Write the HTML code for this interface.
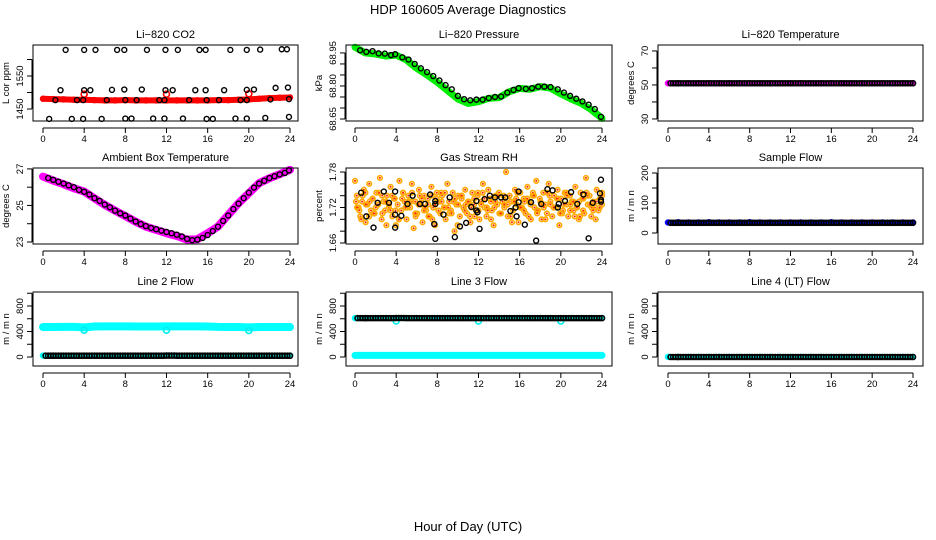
<!DOCTYPE html>
<html><head><meta charset="utf-8"><style>
body{margin:0;background:#fff;}
svg{display:block;font-family:"Liberation Sans",sans-serif;}
</style></head><body>
<svg id="c" width="936" height="540">
<text x="468" y="14" text-anchor="middle" font-size="13">HDP  160605  Average Diagnostics</text>
<text x="468" y="531" text-anchor="middle" font-size="13">Hour of Day (UTC)</text>
</svg>
<script>
const HOURS = [0,1,2,3,4,5,6,7,8,9,10,11,12,13,14,15,16,17,18,19,20,21,22,23,24];
const XTICKS = [0,4,8,12,16,20,24];
// CO2
const co2Red = [1481,1480,1479,1478,1478,1477,1476,1476,1477,1476,1476,1476,1476,1476,1476,1476,1476,1477,1477,1478,1479,1481,1483,1484,1485];
const co2SpikeHrs = [4,12,20];
const co2SpikeVals = [1495,1495,1496];
const co2BlackHrs = [2.2,4.0,5.1,7.2,7.9,10.1,11.9,13.1,15.2,15.8,18.2,19.8,21.1,23.2,23.7,
 1.7,4.0,4.6,6.7,7.9,9.6,11.9,12.6,14.8,15.8,17.6,19.8,20.5,22.6,23.8,
 1.2,3.3,3.9,6.2,8.0,9.1,11.3,11.8,14.2,15.9,17.1,19.2,19.8,22.1,23.9,
 0.6,2.8,3.9,5.7,8.0,8.6,10.7,11.8,13.6,15.9,16.5,18.7,19.8,21.6,23.9];
const co2BlackVals = [1629,1629,1629,1629,1629,1629,1629,1629,1629,1629,1629,1629,1630,1631,1631,
 1507,1507,1507,1508,1509,1509,1507,1507,1507,1507,1507,1508,1509,1514,1515,
 1477,1477,1477,1477,1477,1477,1477,1477,1477,1477,1477,1477,1477,1479,1480,
 1420,1420,1420,1420,1421,1421,1421,1421,1421,1420,1420,1421,1421,1423,1426];
// Pressure
const presGreen = [68.976,68.95,68.945,68.936,68.94,68.918,68.88,68.85,68.817,68.779,68.741,68.721,68.729,68.744,68.747,68.774,68.789,68.785,68.797,68.79,68.764,68.741,68.721,68.691,68.653];
const presBlackHrs = [0.5,1.1,1.7,2.3,2.9,3.5,3.9,4.6,5.2,5.8,6.4,7.0,7.6,8.2,8.8,9.4,10.0,10.6,11.2,11.8,12.4,13.0,13.6,14.2,14.8,15.4,15.9,16.6,17.2,17.8,18.4,19.0,19.7,20.3,20.9,21.5,22.1,22.7,23.3,23.9];
const presBlackVals = [68.962,68.955,68.958,68.948,68.947,68.94,68.944,68.93,68.92,68.9,68.88,68.863,68.845,68.825,68.804,68.785,68.755,68.74,68.735,68.738,68.738,68.745,68.75,68.752,68.77,68.782,68.79,68.787,68.79,68.797,68.797,68.795,68.785,68.77,68.755,68.742,68.73,68.715,68.695,68.66];
// Li-820 temperature
const ltMag = [51,51,51,51,51,51,51,51,51,51,51,51,51,51,51,51,51,51,51,51,51,51,51,51,51];
const ltBlack = [51,51,51,51,51,51,51,51,51,51,51,51,51,51,51,51,51,51,51,51,51,51,51,51,51];
// Ambient box temperature
const ambMag = [26.58,26.36,26.16,25.94,25.76,25.39,25.03,24.72,24.42,24.11,23.84,23.66,23.48,23.33,23.13,23.15,23.48,23.84,24.48,25.12,25.67,26.22,26.49,26.71,26.95];
const ambBlackHrs = [0.5,1.0,1.5,2.0,2.5,3.0,3.5,4.0,4.5,5.0,5.5,6.0,6.5,7.0,7.5,8.0,8.5,9.0,9.5,10.0,10.5,11.0,11.5,12.0,12.5,13.0,13.5,14.0,14.5,15.0,15.5,16.0,16.5,17.0,17.5,18.0,18.5,19.0,19.5,20.0,20.5,21.0,21.5,22.0,22.5,23.0,23.5,23.9];
const ambBlackVals = [26.5,26.4,26.3,26.2,26.1,26.0,25.85,25.75,25.6,25.4,25.25,25.05,24.9,24.72,24.57,24.45,24.28,24.12,23.98,23.87,23.77,23.7,23.62,23.55,23.48,23.4,23.3,23.17,23.1,23.13,23.22,23.38,23.6,23.84,24.15,24.45,24.8,25.1,25.4,25.7,25.98,26.2,26.35,26.5,26.6,26.7,26.78,26.92];
// Gas stream RH
const rhColVals = [1.765,1.74,1.72,1.705,1.73,1.75,1.695,1.725,1.76,1.715,1.735,1.71,1.745,1.725,1.77,1.7,1.73,1.715,1.74,1.72,
 1.755,1.705,1.735,1.69,1.725,1.765,1.715,1.745,1.73,1.7,1.74,1.72,1.76,1.685,1.73,1.71,1.75,1.725,1.695,1.74,
 1.715,1.735,1.705,1.755,1.72,1.69,1.745,1.73,1.71,1.74,1.72,1.7,1.76,1.73,1.715,1.745,1.68,1.725,1.74,1.705,
 1.735,1.72,1.75,1.71,1.73,1.695,1.745,1.725,1.715,1.74,1.7,1.73,1.76,1.72,1.705,1.75,1.735,1.715,1.69,1.74,
 1.725,1.745,1.71,1.73,1.72,1.78,1.705,1.74,1.73,1.715,1.75,1.725,1.695,1.745,1.72,1.735,1.71,1.755,1.73,1.7,
 1.74,1.72,1.765,1.715,1.735,1.7,1.745,1.725,1.71,1.76,1.73,1.705,1.74,1.72,1.75,1.69,1.735,1.715,1.745,1.725,
 1.705,1.74,1.73,1.715,1.755,1.72,1.7,1.745,1.735,1.71,1.77,1.725,1.74,1.705,1.73,1.72,1.75,1.715,1.735,1.745];
const rhColVals2 = [1.72,1.7,1.745,1.73,1.71,1.725,1.74,1.69,1.715,1.735,1.7,1.745,1.72,1.73,1.705,1.74,1.715,1.725,1.7,1.735,
 1.745,1.72,1.71,1.73,1.69,1.74,1.725,1.705,1.735,1.715,1.745,1.72,1.7,1.73,1.71,1.74,1.725,1.695,1.735,1.72,
 1.73,1.705,1.745,1.715,1.725,1.7,1.74,1.72,1.735,1.71,1.745,1.725,1.705,1.73,1.715,1.74,1.72,1.7,1.735,1.725];
const rhColVals3 = [1.73,1.715,1.74,1.725,1.705,1.735,1.72,1.745,1.71,1.73,1.725,1.74,1.715,1.7,1.735,1.72,1.73,1.745,1.71,1.725,
 1.735,1.72,1.705,1.74,1.725,1.715,1.73,1.745,1.72,1.71,1.735,1.725,1.74,1.715,1.73,1.72,1.705,1.745,1.725,1.735,
 1.715,1.73,1.72,1.74,1.71,1.725,1.735,1.705,1.73,1.745,1.72,1.715,1.735,1.725,1.74,1.71,1.73,1.72,1.745,1.725,
 1.72,1.735,1.71,1.725,1.74,1.715,1.73,1.72,1.705,1.735,1.745,1.725,1.715,1.73,1.72,1.74];
const rhBlackHrs = [0.6,1.1,1.8,2.2,2.8,3.3,3.9,3.9,3.9,4.5,5.1,5.6,6.3,6.8,7.3,7.8,7.8,7.7,7.8,8.6,9.2,9.7,10.2,10.8,11.3,11.8,11.8,11.9,12.1,12.6,13.1,13.6,14.2,14.6,15.1,15.6,15.7,15.9,15.9,16.5,17.1,17.6,18.1,18.7,19.2,19.7,19.8,20.4,21.0,21.6,22.2,22.7,23.1,23.8,23.9,23.9,23.9];
const rhBlackVals = [1.745,1.705,1.686,1.728,1.747,1.728,1.747,1.708,1.686,1.706,1.726,1.740,1.726,1.726,1.742,1.731,1.726,1.692,1.667,1.708,1.737,1.670,1.688,1.694,1.721,1.731,1.715,1.712,1.684,1.734,1.740,1.737,1.737,1.737,1.714,1.720,1.705,1.747,1.729,1.691,1.729,1.664,1.726,1.751,1.749,1.720,1.726,1.731,1.746,1.726,1.742,1.668,1.728,1.744,1.733,1.767,1.730];
// Flows
const sampleBlue = [35,36,35,35,36,35,35,35,36,35,35,35,35,35,35,35,36,35,35,35,35,35,35,35,35];
const sampleBlack = [34,34,34,34,34,34,34,34,34,34,34,34,34,34,34,34,34,34,34,34,34,34,34,34,34];
const l2Cyan = [470,470,472,472,465,478,480,480,480,478,478,478,480,480,480,480,478,472,470,470,465,470,470,470,470];
const l2Dips = [420,420,415];
const l2Black = [20,20,20,20,20,20,20,20,20,20,20,20,22,20,20,20,20,20,20,20,20,20,20,20,20];
const l3CyanHi = [610,612,612,612,610,612,612,612,612,612,612,612,612,612,612,612,612,612,612,612,610,612,612,612,612];
const l3Dips = [565,565,565];
const l3CyanLo = [25,25,25,25,25,25,25,25,25,25,25,25,25,25,25,25,25,25,25,25,25,25,25,25,25];
const l3Black = [610,610,610,610,612,610,610,610,610,610,610,610,610,610,610,610,610,610,610,610,610,610,610,610,610];
const l4Cyan = [2,2,2,2,2,2,2,2,2,2,2,2,2,2,2,2,2,2,2,2,2,2,2,2,2];
const l4Black = [0,0,0,0,0,0,0,0,0,0,0,0,0,0,0,0,0,0,0,0,0,0,0,0,0];
const DIP_HRS = [4,12,20];

const NS="http://www.w3.org/2000/svg";
const svg=document.getElementById('c');
function mk(tag,attrs,parent){const e=document.createElementNS(NS,tag);for(const k in attrs)e.setAttribute(k,attrs[k]);(parent||svg).appendChild(e);return e;}

const cols=[{bl:33,br:298,x0:43,x24:290},{bl:346,br:612,x0:355,x24:602},{bl:658,br:923,x0:668,x24:913}];
const rows=[{bt:45,bb:121},{bt:168,bb:244},{bt:292,bb:366}];

function panel(ci,ri,title,ytitle,ymin,ymax,ticks,labels,name){
  const c=cols[ci],r=rows[ri];
  const g=mk('g',{});
  
  
  const sx=h=>c.x0+(c.x24-c.x0)*h/24;
  const sy=v=>r.bb-(v-ymin)/(ymax-ymin)*(r.bb-r.bt);
  const t=mk('text',{x:(c.bl+c.br)/2,y:r.bt-7,'text-anchor':'middle','font-size':11},g);t.textContent=title;
  
  
  const plot=mk('g',{},g);
  const box=mk('rect',{x:c.bl,y:r.bt,width:c.br-c.bl,height:r.bb-r.bt,fill:'none',stroke:'#000','stroke-width':1},g);
  
  
  const xa=mk('g',{},g);
  
  
  mk('line',{x1:sx(0),x2:sx(24),y1:r.bb+7,y2:r.bb+7,stroke:'#000'},xa);
  XTICKS.forEach(h=>{mk('line',{x1:sx(h),x2:sx(h),y1:r.bb+7,y2:r.bb+12,stroke:'#000'},xa);
    const l=mk('text',{x:sx(h),y:r.bb+21,'text-anchor':'middle','font-size':9.5},xa);l.textContent=h;});
  const ya=mk('g',{},g);
  
  
  const ax=c.bl-1;
  mk('line',{x1:ax,x2:ax,y1:sy(ticks[0]),y2:sy(ticks[ticks.length-1]),stroke:'#000'},ya);
  ticks.forEach(v=>{mk('line',{x1:ax-5,x2:ax,y1:sy(v),y2:sy(v),stroke:'#000'},ya);});
  labels.forEach(v=>{const yy=sy(v);const l=mk('text',{x:ax-9,y:yy,'text-anchor':'middle','font-size':9.5,transform:`rotate(-90 ${ax-9} ${yy})`},ya);l.textContent=v;});
  const yt=mk('text',{x:c.bl-24,y:(r.bt+r.bb)/2,'text-anchor':'middle','font-size':9.5,transform:`rotate(-90 ${c.bl-24} ${(r.bt+r.bb)/2})`},g);
  yt.textContent=ytitle;
  
  
  return {sx,sy,plot};
}
function pt(p,h,v,col,r,w){const e=mk('circle',{cx:p.sx(h),cy:p.sy(v),r:r||2.5,fill:'none',stroke:col,'stroke-width':w||1.4},p.plot);
  
  return e;}
function band(p,vals,col,w){const d=vals.map((v,i)=>`${i?'L':'M'}${p.sx(HOURS[i])},${p.sy(v)}`).join('');
  const e=mk('path',{d,fill:'none',stroke:col,'stroke-width':w,'stroke-linecap':'round','stroke-linejoin':'round'},p.plot);
  
  
  vals.forEach((v,i)=>pt(p,HOURS[i],v,col,2.5,1.5));}
function blackHourly(p,vals){vals.forEach((v,i)=>{if(i===vals.length-1){pt(p,HOURS[i],v,'#000',2.5,1.6);return;}
  [0.5,0.75,1.0,1.25].forEach(o=>{if(HOURS[i]+o-0.5<=24)pt(p,HOURS[i]+o-0.5+ (i===0?0.25:0),v,'#000',2.5,1.6);});});}

// CO2
let p=panel(0,0,'Li\u2212820 CO2','L cor ppm',1413.6,1643.9,[1450,1500,1550,1600],[1450,1550],'co2-panel');
band(p,co2Red,'#ff0000',6);
co2SpikeHrs.forEach((h,i)=>pt(p,h,co2SpikeVals[i],'#ff0000',3,1.6));
co2BlackHrs.forEach((h,i)=>pt(p,h,co2BlackVals[i],'#000'));
// Pressure
p=panel(1,0,'Li\u2212820 Pressure','kPa',68.641,68.986,[68.65,68.70,68.75,68.80,68.85,68.90,68.95],['68.65','68.80','68.95'],'pressure-panel');
band(p,presGreen,'#00ee00',7);
presBlackHrs.forEach((h,i)=>pt(p,h,presBlackVals[i],'#000'));
// Li temp
p=panel(2,0,'Li\u2212820 Temperature','degrees C',28.8,73.5,[30,40,50,60,70],[30,50,70],'li820-temp-panel');
band(p,ltMag,'#ff00ff',5);
blackHourly(p,ltBlack);
// Ambient
p=panel(0,1,'Ambient Box Temperature','degrees C',22.89,27.05,[23,24,25,26,27],[23,25,27],'ambient-temp-panel');
band(p,ambMag,'#ff00ff',8);
ambBlackHrs.forEach((h,i)=>pt(p,h,ambBlackVals[i],'#000'));
// RH
p=panel(1,1,'Gas Stream RH','percent',1.6583,1.7868,[1.66,1.68,1.70,1.72,1.74,1.76,1.78],['1.66','1.72','1.78'],'rh-panel');
function rhLayer(arr,off){arr.forEach((v,i)=>{const h=Math.min(24,24*i/(arr.length-1)+off);pt(p,h,v,'#ffaa00',2.3,1.6);
  const d=mk('circle',{cx:p.sx(h),cy:p.sy(v),r:1,fill:'#ff2200'},p.plot);
  
  });}
rhLayer(rhColVals,0);rhLayer(rhColVals2,0.2);rhLayer(rhColVals3,0.1);
rhBlackHrs.forEach((h,i)=>pt(p,h,rhBlackVals[i],'#000'));
// Sample flow
p=panel(2,1,'Sample Flow','m / m n',-36.7,216.7,[0,50,100,150,200],[0,100,200],'sample-flow-panel');
band(p,sampleBlue,'#0000ff',5);
blackHourly(p,sampleBlack);
const FT=[0,200,400,600,800,1000],FL=[0,400,800];
// Line 2
p=panel(0,2,'Line 2 Flow','m / m n',-141,1019.6,FT,FL,'line2-flow-panel');
band(p,l2Cyan,'#00ffff',8);
DIP_HRS.forEach((h,i)=>pt(p,h,l2Dips[i],'#00eeee',3,1.6));
band(p,l2Black.map(v=>v+2),'#00ffff',5);
blackHourly(p,l2Black);
// Line 3
p=panel(1,2,'Line 3 Flow','m / m n',-141,1019.6,FT,FL,'line3-flow-panel');
band(p,l3CyanHi,'#00ffff',6);
DIP_HRS.forEach((h,i)=>pt(p,h,l3Dips[i],'#00eeee',3,1.6));
band(p,l3CyanLo,'#00ffff',7);
blackHourly(p,l3Black);
// Line 4
p=panel(2,2,'Line 4 (LT) Flow','m / m n',-141,1019.6,FT,FL,'line4-flow-panel');
band(p,l4Cyan,'#00ffff',4);
blackHourly(p,l4Black);
</script>
</body></html>
